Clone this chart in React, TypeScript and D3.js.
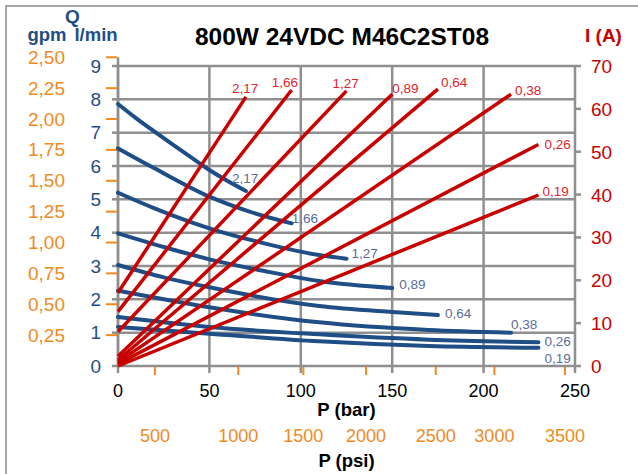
import React from "react";
import * as d3 from "d3";

// ---- data ----
const displacements = ["2,17", "1,66", "1,27", "0,89", "0,64", "0,38", "0,26", "0,19"];

// flow curves Q (l/min) vs P (bar)
const flowP: number[][] = [
  [0, 10, 20, 30, 40, 50, 60, 70],
  [0, 20, 50, 72, 95],
  [0, 20, 50, 80, 110, 125],
  [0, 25, 50, 80, 110, 150],
  [0, 25, 50, 110, 150, 175],
  [0, 25, 50, 110, 170, 215],
  [0, 50, 110, 170, 230],
  [0, 50, 110, 170, 230],
];
const flowQ: number[][] = [
  [7.86, 7.43, 7.03, 6.64, 6.26, 5.88, 5.55, 5.25],
  [6.53, 5.93, 5.08, 4.63, 4.28],
  [5.2, 4.73, 4.13, 3.68, 3.33, 3.22],
  [3.98, 3.57, 3.2, 2.85, 2.55, 2.34],
  [3.03, 2.66, 2.36, 1.8, 1.62, 1.53],
  [2.26, 2.0, 1.76, 1.31, 1.08, 1.0],
  [1.47, 1.17, 0.95, 0.79, 0.71],
  [1.17, 0.97, 0.74, 0.6, 0.55],
];

// current lines I (A) vs P (bar): start at P=0, end at max pressure
const currentStart = [17.1, 12.7, 8.0, 2.3, 1.4, 0.9, 0.5, 0.0];
const currentEnd = [62.8, 64.4, 64.2, 63.4, 64.6, 63.4, 51.7, 39.9];
const maxPressure = [70, 95, 125, 150, 175, 215, 230, 230];

const barTicks = [0, 50, 100, 150, 200, 250];
const lminTicks = [0, 1, 2, 3, 4, 5, 6, 7, 8, 9];
const gpmTicks = [0.25, 0.5, 0.75, 1.0, 1.25, 1.5, 1.75, 2.0, 2.25, 2.5];
const ampTicks = [0, 10, 20, 30, 40, 50, 60, 70];
const psiTicks = [500, 1000, 1500, 2000, 2500, 3000, 3500];
const psiAtBar = [20.2, 65.8, 101.4, 135.7, 173.8, 205.9, 244.5];

// ---- label offsets (style) ----
const blueLabelOff = [
  [-14, -8], [0, 0], [5, -1], [7, 1], [7, 3], [0, -4], [6, 4], [6, 15],
];
const redLabelOff = [
  [-14, -4], [-20, -3], [-14, -3], [0, -1], [3, -2], [4, 1], [6, 5], [4, 1],
];

const fmt = (v: number) => v.toFixed(2).replace(".", ",");

const BLUE = "#1f4e86";
const BLUE_LABEL = "#5a6d96";
const RED = "#c80000";
const RED_LABEL = "#e3232c";
const ORANGE = "#f08a1e";
const GRID = "#8f8f8f";
const FONT = "'Liberation Sans', Arial, sans-serif";

export default function App() {
  const x = d3.scaleLinear().domain([0, 250]).range([118, 575]);
  const y = d3.scaleLinear().domain([0, 9]).range([366, 66]);
  const yI = d3.scaleLinear().domain([0, 70]).range([366, 66]);
  const yG = d3.scaleLinear().domain([0, 2.5]).range([366, 57.3]);

  const flowLine = d3
    .line<[number, number]>()
    .x((d) => x(d[0]))
    .y((d) => y(d[1]))
    .curve(d3.curveMonotoneX);
  const ampLine = d3
    .line<[number, number]>()
    .x((d) => x(d[0]))
    .y((d) => yI(d[1]));

  const [x0, x1] = x.range();
  const [yb, yt] = y.range();

  return (
    <svg
      width={638}
      height={474}
      style={{ position: "absolute", left: 0, top: 0, fontFamily: FONT }}
    >
      <rect x={0} y={0} width={638} height={474} fill="#fff" />
      <rect x={6} y={6} width={700} height={600} fill="none" stroke="#a6a6a6" strokeWidth={2} />

      {/* grid */}
      {lminTicks.map((t) => (
        <line key={"h" + t} x1={x0} x2={x1} y1={y(t)} y2={y(t)} stroke={GRID} strokeWidth={2.5} />
      ))}
      {barTicks.map((t) => (
        <line key={"v" + t} x1={x(t)} x2={x(t)} y1={yt} y2={yb + 7} stroke={GRID} strokeWidth={2.5} />
      ))}
      {/* left axis extension */}
      <line x1={x0} x2={x0} y1={yG(2.5)} y2={yb} stroke={GRID} strokeWidth={2.5} />
      {/* left gray ticks */}
      {lminTicks.map((t) => (
        <line key={"lt" + t} x1={x0 - 6} x2={x0} y1={y(t)} y2={y(t)} stroke={GRID} strokeWidth={2.5} />
      ))}
      {/* right ticks */}
      {ampTicks.map((t) => (
        <line key={"rt" + t} x1={x1} x2={x1 + 6} y1={yI(t)} y2={yI(t)} stroke={GRID} strokeWidth={2.5} />
      ))}
      {/* orange gpm ticks */}
      {gpmTicks.map((t) => (
        <line key={"gt" + t} x1={x0 - 12} x2={x0 - 1} y1={yG(t)} y2={yG(t)} stroke={ORANGE} strokeWidth={2} />
      ))}
      {/* orange psi ticks */}
      {psiAtBar.map((b, i) => (
        <line key={"pt" + i} x1={x(b)} x2={x(b)} y1={yb + 1} y2={yb + 9} stroke={ORANGE} strokeWidth={2} />
      ))}

      {/* flow curves */}
      {flowP.map((ps, i) => (
        <path
          key={"f" + i}
          d={flowLine(ps.map((p, j) => [p, flowQ[i][j]]) as [number, number][]) || ""}
          fill="none"
          stroke={BLUE}
          strokeWidth={4}
          strokeLinecap="round"
        />
      ))}
      {/* current lines */}
      {currentStart.map((s, i) => (
        <path
          key={"a" + i}
          d={ampLine([[0, s], [maxPressure[i], currentEnd[i]]]) || ""}
          fill="none"
          stroke={RED}
          strokeWidth={3.5}
        />
      ))}

      {/* blue curve labels */}
      {displacements.map((lab, i) => {
        const ps = flowP[i];
        const last = ps.length - 1;
        return (
          <text
            key={"bl" + i}
            x={x(ps[last]) + blueLabelOff[i][0]}
            y={y(flowQ[i][last]) + blueLabelOff[i][1]}
            fontSize={13.5}
            fill={BLUE_LABEL}
          >
            {lab}
          </text>
        );
      })}
      {/* red line labels */}
      {displacements.map((lab, i) => (
        <text
          key={"rl" + i}
          x={x(maxPressure[i]) + redLabelOff[i][0]}
          y={yI(currentEnd[i]) + redLabelOff[i][1]}
          fontSize={13.5}
          fill={RED_LABEL}
        >
          {lab}
        </text>
      ))}

      {/* left axis labels */}
      {lminTicks.map((t) => (
        <text key={"ll" + t} x={101} y={y(t) + 6.5} textAnchor="end" fontSize={19} fill={BLUE}>
          {t}
        </text>
      ))}
      {gpmTicks.map((t) => (
        <text key={"gl" + t} x={65} y={yG(t) + 6.5} textAnchor="end" fontSize={19} fill={ORANGE}>
          {fmt(t)}
        </text>
      ))}
      {/* right axis labels */}
      {ampTicks.map((t) => (
        <text key={"al" + t} x={591} y={yI(t) + 7} fontSize={19} fill={RED}>
          {t}
        </text>
      ))}
      {/* bottom labels */}
      {barTicks.map((t) => (
        <text key={"bt" + t} x={x(t)} y={397} textAnchor="middle" fontSize={18} fill="#000">
          {t}
        </text>
      ))}
      {psiTicks.map((t, i) => (
        <text key={"ps" + t} x={x(psiAtBar[i])} y={442} textAnchor="middle" fontSize={18} fill={ORANGE}>
          {t}
        </text>
      ))}

      {/* titles */}
      <text x={342} y={45} textAnchor="middle" fontSize={24.5} fontWeight="bold" fill="#000">
        800W 24VDC M46C2ST08
      </text>
      <text x={72.5} y={23} textAnchor="middle" fontSize={19} fontWeight="bold" fill={BLUE}>
        Q
      </text>
      <text x={47} y={41} textAnchor="middle" fontSize={18.5} fontWeight="bold" fill={BLUE}>
        gpm
      </text>
      <text x={96} y={41} textAnchor="middle" fontSize={18.5} fontWeight="bold" fill={BLUE}>
        l/min
      </text>
      <text x={585} y={42} fontSize={19} fontWeight="bold" fill={RED}>
        I (A)
      </text>
      <text x={(x0 + x1) / 2} y={416} textAnchor="middle" fontSize={18.5} fontWeight="bold" fill="#000">
        P (bar)
      </text>
      <text x={(x0 + x1) / 2} y={467} textAnchor="middle" fontSize={18.5} fontWeight="bold" fill="#000">
        P (psi)
      </text>
    </svg>
  );
}
